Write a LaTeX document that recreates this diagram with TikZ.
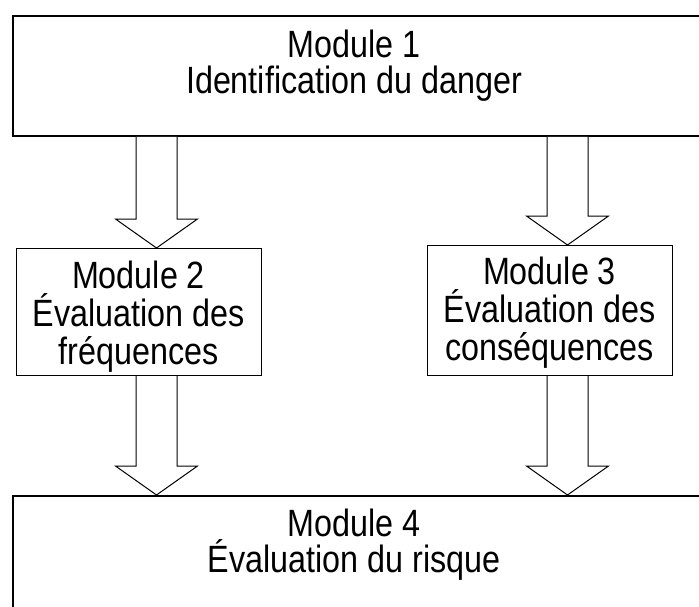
\documentclass[tikz,border=0pt]{standalone}
\usepackage{fontspec}
\setmainfont{Liberation Sans}[FakeStretch=0.85]
\usetikzlibrary{calc}
\tikzset{
  bigbox/.style={draw=black, line width=1.8pt, rectangle, anchor=north west, inner sep=0pt},
  smallbox/.style={draw=black, line width=1.1pt, rectangle, anchor=north west, inner sep=0pt},
  lbl/.style={anchor=base, inner sep=0pt, font=\fontsize{38}{44}\selectfont},
  arrowline/.style={draw=black, line width=1pt, line join=miter, fill=white}
}
\newcommand\blockarrow[3]{% #1 source node, #2 target node, #3 x position
  \draw[arrowline] let \p1=(#1.south), \p2=(#2.north) in
    (#3pt-20.5pt,\y1) -- (#3pt-20.5pt,\y2+29pt) -- (#3pt-41pt,\y2+29pt) --
    (#3pt,\y2) -- (#3pt+41pt,\y2+29pt) -- (#3pt+20.5pt,\y2+29pt) -- (#3pt+20.5pt,\y1);}
\begin{document}
\begin{tikzpicture}[x=1pt,y=-1pt]
\useasboundingbox (0,0) rectangle (699,607);
\fill[white] (0,0) rectangle (699,607);
% boxes
\node[bigbox, minimum width=698pt, minimum height=120pt] (m1) at (12,15) {};
\node[smallbox, minimum width=245pt, minimum height=127pt] (m2) at (16,248) {};
\node[smallbox, minimum width=245pt, minimum height=130pt] (m3) at (427,245) {};
\node[bigbox, minimum width=698pt, minimum height=150pt] (m4) at (12,495) {};
% labels
\node[lbl] (m1a) at (354,58) {Module 1};
\node[lbl] (m1b) at (354,94) {Identification du danger};
\node[lbl] (m2a) at (138.5,288) {Module 2};
\node[lbl] (m2b) at (138.5,326) {Évaluation des};
\node[lbl] (m2c) at (138.5,364) {fréquences};
\node[lbl] (m3a) at (549.5,284) {Module 3};
\node[lbl] (m3b) at (549.5,322) {Évaluation des};
\node[lbl] (m3c) at (549.5,360) {conséquences};
\node[lbl] (m4a) at (354,536) {Module 4};
\node[lbl] (m4b) at (354,572) {Évaluation du risque};
% block arrows
\blockarrow{m1}{m2}{156.5}
\blockarrow{m1}{m3}{567.5}
\blockarrow{m2}{m4}{156.5}
\blockarrow{m3}{m4}{567.5}
\end{tikzpicture}
\end{document}
